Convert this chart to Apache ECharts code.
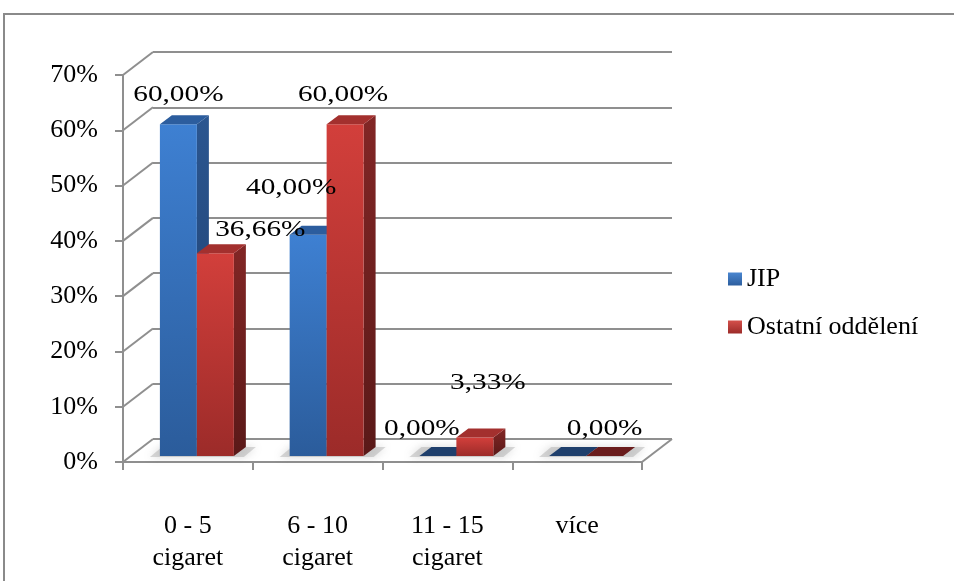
<!DOCTYPE html>
<html>
<head>
<meta charset="utf-8">
<script src="https://cdn.jsdelivr.net/npm/echarts@6/dist/echarts.min.js"></script>
<style>
  html, body { margin: 0; padding: 0; background: #ffffff; }
  #chart { width: 954px; height: 581px; }
</style>
</head>
<body>
<div id="chart"></div>
<script>
// ---- data ----
const categories = ['0 - 5\ncigaret', '6 - 10\ncigaret', '11 - 15\ncigaret', 'více'];
const seriesNames = ['JIP', 'Ostatní oddělení'];
const jip = [60, 40, 0, 0];
const ostatni = [36.66, 60, 3.33, 0];
const yTicks = [0, 10, 20, 30, 40, 50, 60, 70];

// ---- layout ----
const FRONT = { left: 123, top: 75, width: 519, height: 387 };   // front plane of the 3D box
const DEPTH = [30, -23];                                          // front -> back wall
const BAR_SHIFT = [9, -6];                                        // front -> bar front faces
const BAR_DEPTH = [12, -9];                                       // thickness of each bar
const BAR_FRAC = 0.285;                                           // bar width / category width
const FONT = '"Liberation Serif", "Times New Roman", serif';
const STRETCH = 1.22;                                             // wide lettering of the labels
const GRID_GRAY = '#8f8f8f';

// which value labels are drawn, and their nudge from the bar's top-front centre
const showLabel = [[true, true, true, false], [true, true, true, true]];
const labelNudge = [
  [[0, -30], [-17, -47], [-16, -27], [0, -27]],
  [[45, -24], [-2, -30], [13, -55], [0, -27]]
];

const palette = [
  {
    front: ['#3e80d2', '#2b5c9b'], side: ['#2b5690', '#1e3e6c'], top: '#2c5d9e', legend: ['#4a86d0', '#2c5e9e']
  },
  {
    front: ['#d23f3b', '#9c2b29'], side: ['#822625', '#5a1918'], top: '#a3302e', legend: ['#d4504b', '#9c2b29']
  }
];

const fmt = v => v.toFixed(2).replace('.', ',') + '%';
const lin = (a, b) => new echarts.graphic.LinearGradient(0, 0, 0, 1, [{ offset: 0, color: a }, { offset: 1, color: b }]);

const gridFront = FRONT;
const gridBack = { left: FRONT.left + DEPTH[0], top: FRONT.top + DEPTH[1], width: FRONT.width, height: FRONT.height };
const gridBars = { left: FRONT.left + BAR_SHIFT[0], top: FRONT.top + BAR_SHIFT[1], width: FRONT.width, height: FRONT.height };

function barRenderer(s) {
  const col = palette[s];
  return function (params, api) {
    const i = api.value(0), v = api.value(1);
    const base = api.coord([i, 0]);
    const top = api.coord([i, v]);
    const bw = api.size([1, 0])[0] * BAR_FRAC;
    const x0 = s === 0 ? base[0] - bw : base[0];
    const x1 = x0 + bw;
    const dx = BAR_DEPTH[0], dy = BAR_DEPTH[1];
    const h = base[1] - top[1];
    const children = [];
    if (h > 0.5) {
      children.push({
        type: 'polygon',
        shape: { points: [[x1, top[1]], [x1 + dx, top[1] + dy], [x1 + dx, base[1] + dy], [x1, base[1]]] },
        style: { fill: lin(col.side[0], col.side[1]) }
      });
      children.push({
        type: 'rect',
        shape: { x: x0, y: top[1], width: bw, height: h },
        style: { fill: lin(col.front[0], col.front[1]) }
      });
    }
    children.push({
      type: 'polygon',
      shape: { points: [[x0, top[1]], [x0 + dx, top[1] + dy], [x1 + dx, top[1] + dy], [x1, top[1]]] },
      style: { fill: h > 0.5 ? col.top : (s === 0 ? '#1f3f6c' : '#6a1c1c') }
    });
    return { type: 'group', children };
  };
}

// soft floor shadow under each pair of bars
function shadowRenderer(params, api) {
  const i = api.value(0);
  const c = api.coord([i, 0]);
  const bw = api.size([1, 0])[0] * BAR_FRAC;
  const xl = c[0] - bw - 10, xr = c[0] + bw + 10;
  const by = c[1] + 1;
  return {
    type: 'polygon',
    shape: { points: [[xl, by], [xl + BAR_DEPTH[0], by + BAR_DEPTH[1] - 1], [xr + BAR_DEPTH[0], by + BAR_DEPTH[1] - 1], [xr, by]] },
    style: { fill: 'rgba(150,150,150,0.35)', shadowBlur: 8, shadowColor: 'rgba(120,120,120,0.8)' }
  };
}

// side-wall diagonals at every tick and the right edge of the floor
function frameRenderer(params, api) {
  const v = api.value(0);
  const cs = params.coordSys;
  const y = api.coord([0, v])[1];
  const lines = [{
    type: 'line',
    shape: { x1: cs.x, y1: y, x2: cs.x + DEPTH[0], y2: y + DEPTH[1] },
    style: { stroke: GRID_GRAY, lineWidth: 2 }
  }];
  if (v === 0) {
    lines.push({
      type: 'line',
      shape: { x1: cs.x + cs.width, y1: y, x2: cs.x + cs.width + DEPTH[0], y2: y + DEPTH[1] },
      style: { stroke: GRID_GRAY, lineWidth: 2 }
    });
  }
  return { type: 'group', children: lines };
}

const labelData = [];
[jip, ostatni].forEach((arr, s) => arr.forEach((v, i) => { if (showLabel[s][i]) labelData.push([i, v, s]); }));

function labelRenderer(params, api) {
  const i = api.value(0), v = api.value(1), s = api.value(2);
  const top = api.coord([i, v]);
  const bw = api.size([1, 0])[0] * BAR_FRAC;
  const cx = s === 0 ? top[0] - bw / 2 : top[0] + bw / 2;
  const n = labelNudge[s][i];
  return {
    type: 'text',
    x: cx + n[0],
    y: top[1] + n[1],
    scaleX: STRETCH,
    style: { text: fmt(v), fill: '#000', font: '24px ' + FONT, align: 'center', verticalAlign: 'middle' }
  };
}

const chart = echarts.init(document.getElementById('chart'), null, { renderer: 'canvas' });

const axisGray = { color: GRID_GRAY, width: 2 };

chart.setOption({
  backgroundColor: '#ffffff',
  animation: false,
  graphic: [{
    type: 'rect',
    shape: { x: 4, y: 14, width: 1000, height: 620 },
    style: { fill: 'none', stroke: '#8a8a8a', lineWidth: 2 },
    silent: true
  }],
  legend: {
    data: seriesNames,
    orient: 'vertical',
    left: 728,
    top: 266,
    padding: 0,
    itemWidth: 14,
    itemHeight: 13,
    itemGap: 22,
    icon: 'rect',
    textStyle: { fontFamily: FONT, fontSize: 26, color: '#000' }
  },
  grid: [
    Object.assign({ containLabel: false }, gridFront),
    Object.assign({ containLabel: false }, gridBack),
    Object.assign({ containLabel: false }, gridBars)
  ],
  xAxis: [
    {
      gridIndex: 0, type: 'category', data: categories,
      axisLine: { show: true, lineStyle: axisGray },
      axisTick: { show: true, interval: 0, length: 8, lineStyle: axisGray },
      axisLabel: { interval: 0, margin: 48, fontFamily: FONT, fontSize: 26, lineHeight: 32, color: '#000', verticalAlign: 'top' },
      splitLine: { show: false }
    },
    { gridIndex: 1, type: 'category', data: categories, show: false },
    { gridIndex: 2, type: 'category', data: categories, show: false }
  ],
  yAxis: [
    {
      gridIndex: 0, type: 'value', min: 0, max: 70, interval: 10,
      axisLine: { show: true, lineStyle: axisGray },
      axisTick: { show: true, length: 8, lineStyle: axisGray },
      axisLabel: { formatter: '{value}%', margin: 25, fontFamily: FONT, fontSize: 26, color: '#000' },
      splitLine: { show: false }
    },
    {
      gridIndex: 1, type: 'value', min: 0, max: 70, interval: 10,
      axisLine: { show: false }, axisTick: { show: false }, axisLabel: { show: false },
      splitLine: { show: true, lineStyle: axisGray }
    },
    { gridIndex: 2, type: 'value', min: 0, max: 70, interval: 10, show: false }
  ],
  series: [
    {
      name: 'frame', type: 'custom', xAxisIndex: 0, yAxisIndex: 0, z: 1, silent: true,
      data: yTicks.map(v => [v]), renderItem: frameRenderer
    },
    {
      name: 'shadow', type: 'custom', xAxisIndex: 2, yAxisIndex: 2, z: 2, silent: true,
      data: categories.map((c, i) => [i]), renderItem: shadowRenderer
    },
    {
      name: seriesNames[0], type: 'custom', xAxisIndex: 2, yAxisIndex: 2, z: 3,
      itemStyle: { color: lin(palette[0].legend[0], palette[0].legend[1]) },
      data: jip.map((v, i) => [i, v]), renderItem: barRenderer(0)
    },
    {
      name: seriesNames[1], type: 'custom', xAxisIndex: 2, yAxisIndex: 2, z: 4,
      itemStyle: { color: lin(palette[1].legend[0], palette[1].legend[1]) },
      data: ostatni.map((v, i) => [i, v]), renderItem: barRenderer(1)
    },
    {
      name: 'labels', type: 'custom', xAxisIndex: 2, yAxisIndex: 2, z: 6, silent: true,
      data: labelData, renderItem: labelRenderer
    }
  ]
});
</script>
</body>
</html>
